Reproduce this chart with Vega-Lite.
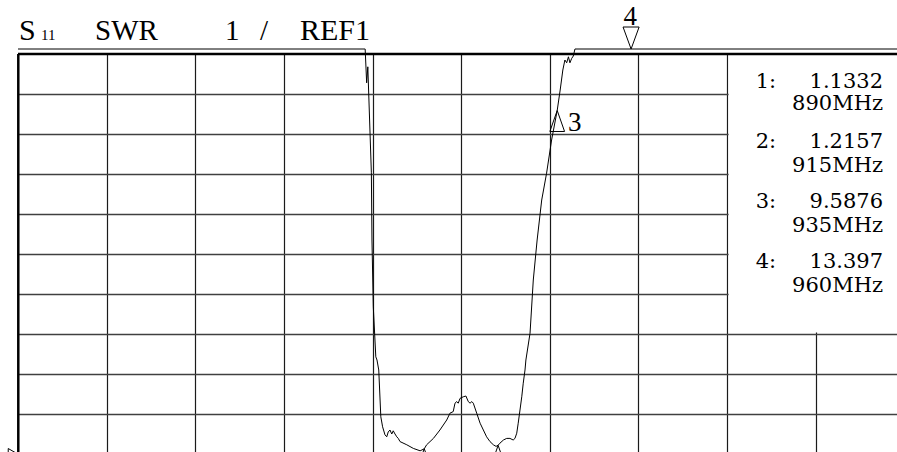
{
  "$schema": "https://vega.github.io/schema/vega-lite/v6.json",
  "width": 879,
  "height": 403,
  "autosize": {"type": "none"},
  "padding": {"left": 18, "top": 49, "right": 0, "bottom": 0},
  "background": "white",
  "config": {"view": {"stroke": null}},
  "data": {"values": [{}]},
  "datasets": {
    "trace": [
      {"f": 752.5, "swr": 11.125}, {"f": 870.0, "swr": 11.125}, {"f": 870.5, "swr": 10.28}, {"f": 870.9, "swr": 10.68},
      {"f": 872.1, "swr": 8.03}, {"f": 872.3, "swr": 6.35}, {"f": 872.75, "swr": 4.68}, {"f": 873.6, "swr": 3.43},
      {"f": 874.0, "swr": 3.35}, {"f": 874.6, "swr": 3.1}, {"f": 875.3, "swr": 1.93}, {"f": 875.9, "swr": 1.68},
      {"f": 876.7, "swr": 1.48}, {"f": 877.3, "swr": 1.43}, {"f": 877.8, "swr": 1.55}, {"f": 878.4, "swr": 1.6},
      {"f": 879.0, "swr": 1.5}, {"f": 879.5, "swr": 1.58}, {"f": 880.1, "swr": 1.5}, {"f": 880.7, "swr": 1.43},
      {"f": 881.2, "swr": 1.39}, {"f": 881.8, "swr": 1.31}, {"f": 884.1, "swr": 1.23}, {"f": 886.3, "swr": 1.14},
      {"f": 888.6, "swr": 1.08}, {"f": 890.0, "swr": 1.13}, {"f": 890.8, "swr": 1.23}, {"f": 893.1, "swr": 1.39},
      {"f": 895.3, "swr": 1.6}, {"f": 897.6, "swr": 1.85}, {"f": 898.7, "swr": 2.02}, {"f": 899.8, "swr": 2.06},
      {"f": 900.4, "swr": 2.27}, {"f": 901.0, "swr": 2.31}, {"f": 901.5, "swr": 2.27}, {"f": 902.1, "swr": 2.39},
      {"f": 903.2, "swr": 2.43}, {"f": 904.1, "swr": 2.45}, {"f": 904.9, "swr": 2.31}, {"f": 905.5, "swr": 2.27},
      {"f": 906.1, "swr": 2.31}, {"f": 906.6, "swr": 2.27}, {"f": 907.75, "swr": 2.02}, {"f": 908.9, "swr": 1.77},
      {"f": 910.0, "swr": 1.6}, {"f": 911.1, "swr": 1.43}, {"f": 912.25, "swr": 1.31}, {"f": 913.4, "swr": 1.23},
      {"f": 914.3, "swr": 1.19}, {"f": 915.0, "swr": 1.22}, {"f": 915.6, "swr": 1.27}, {"f": 916.8, "swr": 1.35},
      {"f": 917.9, "swr": 1.39}, {"f": 919.0, "swr": 1.39}, {"f": 920.1, "swr": 1.35}, {"f": 920.7, "swr": 1.39},
      {"f": 921.3, "swr": 1.52}, {"f": 921.8, "swr": 1.77}, {"f": 922.4, "swr": 2.1}, {"f": 923.0, "swr": 2.43},
      {"f": 923.5, "swr": 2.77}, {"f": 924.1, "swr": 3.1}, {"f": 924.4, "swr": 3.35}, {"f": 925.8, "swr": 4.02},
      {"f": 926.9, "swr": 5.35}, {"f": 928.2, "swr": 6.35}, {"f": 929.75, "swr": 7.35}, {"f": 931.4, "swr": 8.02},
      {"f": 933.1, "swr": 8.85}, {"f": 935.0, "swr": 9.59}, {"f": 936.0, "swr": 10.1}, {"f": 936.9, "swr": 10.6},
      {"f": 937.6, "swr": 10.85}, {"f": 938.2, "swr": 10.78}, {"f": 938.8, "swr": 10.93}, {"f": 939.3, "swr": 10.78},
      {"f": 939.9, "swr": 10.89}, {"f": 940.45, "swr": 10.95}, {"f": 941.0, "swr": 11.125}, {"f": 1050.0, "swr": 11.125}
    ],
    "markers": [
      {"m": "1", "f": 890, "swr": 1.1332},
      {"m": "2", "f": 915, "swr": 1.2157},
      {"m": "3", "f": 935, "swr": 9.5876}
    ]
  },
  "layer": [
    {
      "mark": {"type": "rect", "fill": "white"},
      "encoding": {
        "x": {"datum": 993, "type": "quantitative",
          "scale": {"domain": [752.5, 1050], "nice": false, "zero": false},
          "axis": {"title": null, "labels": false, "ticks": false, "domain": false, "grid": true,
            "values": [782.5, 812.5, 842.5, 872.5, 902.5, 932.5, 962.5, 992.5, 1022.5],
            "gridColor": "#1a1a1a", "gridWidth": 1.2, "gridOpacity": 1}},
        "x2": {"datum": 1050},
        "y": {"datum": 4.04, "type": "quantitative",
          "scale": {"domain": [1.05, 11.125], "nice": false, "zero": false},
          "axis": {"title": null, "labels": false, "ticks": false, "domain": false, "grid": true,
            "values": [2, 3, 4, 5, 6, 7, 8, 9, 10],
            "gridColor": "#404040", "gridWidth": 1.6, "gridOpacity": 1}},
        "y2": {"datum": 11}
      }
    },
    {
      "mark": {"type": "rect", "fill": "white"},
      "encoding": {
        "x": {"datum": 752.5, "type": "quantitative"},
        "x2": {"datum": 1050},
        "y": {"datum": 11, "type": "quantitative"},
        "y2": {"datum": 11.125}
      }
    },
    {
      "mark": {"type": "rule", "color": "black", "strokeWidth": 2.5},
      "encoding": {
        "x": {"datum": 752.6, "type": "quantitative"},
        "y": {"datum": 1.05, "type": "quantitative"},
        "y2": {"datum": 11}
      }
    },
    {
      "mark": {"type": "rule", "color": "black", "strokeWidth": 2.5},
      "encoding": {
        "x": {"datum": 752.5, "type": "quantitative"},
        "x2": {"datum": 1050},
        "y": {"datum": 11, "type": "quantitative"}
      }
    },
    {
      "data": {"name": "trace"},
      "mark": {"type": "line", "color": "black", "strokeWidth": 1},
      "encoding": {
        "x": {"field": "f", "type": "quantitative"},
        "y": {"field": "swr", "type": "quantitative"}
      }
    },
    {
      "data": {"name": "markers"},
      "mark": {"type": "point", "shape": "M0,0L-0.7,2L0.7,2Z", "size": 441, "filled": false, "stroke": "black", "strokeWidth": 1, "opacity": 1},
      "encoding": {
        "x": {"field": "f", "type": "quantitative"},
        "y": {"field": "swr", "type": "quantitative"}
      }
    },
    {
      "mark": {"type": "point", "shape": "M0,0L-0.73,-2L0.73,-2Z", "size": 484, "filled": false, "stroke": "black", "strokeWidth": 1, "opacity": 1},
      "encoding": {
        "x": {"datum": 960, "type": "quantitative"},
        "y": {"datum": 11.125, "type": "quantitative"}
      }
    },
    {
      "mark": {"type": "point", "shape": "triangle-right", "size": 120, "filled": false, "stroke": "black", "strokeWidth": 1, "opacity": 1},
      "encoding": {
        "x": {"datum": 750.8, "type": "quantitative"},
        "y": {"datum": 1.0, "type": "quantitative"}
      }
    },
    {
      "mark": {"type": "text", "text": "S", "font": "Liberation Serif", "fontSize": 30, "align": "left", "baseline": "alphabetic", "color": "black"},
      "encoding": {"x": {"datum": 752.84, "type": "quantitative"}, "y": {"datum": 11.35, "type": "quantitative"}}
    },
    {
      "mark": {"type": "text", "text": "11", "font": "Liberation Serif", "fontSize": 15, "align": "left", "baseline": "alphabetic", "color": "black"},
      "encoding": {"x": {"datum": 760.3, "type": "quantitative"}, "y": {"datum": 11.35, "type": "quantitative"}}
    },
    {
      "mark": {"type": "text", "text": "SWR", "font": "Liberation Serif", "fontSize": 29, "align": "left", "baseline": "alphabetic", "color": "black"},
      "encoding": {"x": {"datum": 778.56, "type": "quantitative"}, "y": {"datum": 11.35, "type": "quantitative"}}
    },
    {
      "mark": {"type": "text", "text": "1", "font": "Liberation Serif", "fontSize": 29, "align": "left", "baseline": "alphabetic", "color": "black"},
      "encoding": {"x": {"datum": 822.56, "type": "quantitative"}, "y": {"datum": 11.35, "type": "quantitative"}}
    },
    {
      "mark": {"type": "text", "text": "/", "font": "Liberation Serif", "fontSize": 29, "align": "left", "baseline": "alphabetic", "color": "black"},
      "encoding": {"x": {"datum": 834.4, "type": "quantitative"}, "y": {"datum": 11.35, "type": "quantitative"}}
    },
    {
      "mark": {"type": "text", "text": "REF1", "font": "Liberation Serif", "fontSize": 30, "align": "left", "baseline": "alphabetic", "color": "black"},
      "encoding": {"x": {"datum": 847.95, "type": "quantitative"}, "y": {"datum": 11.35, "type": "quantitative"}}
    },
    {
      "mark": {"type": "text", "text": "3", "font": "Liberation Serif", "fontSize": 27, "align": "left", "baseline": "alphabetic", "color": "black"},
      "encoding": {"x": {"datum": 938.65, "type": "quantitative"}, "y": {"datum": 9.075, "type": "quantitative"}}
    },
    {
      "mark": {"type": "text", "text": "4", "font": "Liberation Serif", "fontSize": 27, "align": "center", "baseline": "alphabetic", "color": "black"},
      "encoding": {"x": {"datum": 959.7, "type": "quantitative"}, "y": {"datum": 11.725, "type": "quantitative"}}
    },
    {
      "mark": {"type": "text", "text": "1:\u00a0\u00a0\u00a0\u00a0\u00a01.1332", "font": "DejaVu Serif", "fontSize": 21, "align": "right", "baseline": "alphabetic", "color": "black"},
      "encoding": {"x": {"datum": 1045.27, "type": "quantitative"}, "y": {"datum": 10.15, "type": "quantitative"}}
    },
    {
      "mark": {"type": "text", "text": "890MHz", "font": "DejaVu Serif", "fontSize": 21, "align": "right", "baseline": "alphabetic", "color": "black"},
      "encoding": {"x": {"datum": 1045.27, "type": "quantitative"}, "y": {"datum": 9.6, "type": "quantitative"}}
    },
    {
      "mark": {"type": "text", "text": "2:\u00a0\u00a0\u00a0\u00a0\u00a01.2157", "font": "DejaVu Serif", "fontSize": 21, "align": "right", "baseline": "alphabetic", "color": "black"},
      "encoding": {"x": {"datum": 1045.27, "type": "quantitative"}, "y": {"datum": 8.65, "type": "quantitative"}}
    },
    {
      "mark": {"type": "text", "text": "915MHz", "font": "DejaVu Serif", "fontSize": 21, "align": "right", "baseline": "alphabetic", "color": "black"},
      "encoding": {"x": {"datum": 1045.27, "type": "quantitative"}, "y": {"datum": 8.05, "type": "quantitative"}}
    },
    {
      "mark": {"type": "text", "text": "3:\u00a0\u00a0\u00a0\u00a0\u00a09.5876", "font": "DejaVu Serif", "fontSize": 21, "align": "right", "baseline": "alphabetic", "color": "black"},
      "encoding": {"x": {"datum": 1045.27, "type": "quantitative"}, "y": {"datum": 7.15, "type": "quantitative"}}
    },
    {
      "mark": {"type": "text", "text": "935MHz", "font": "DejaVu Serif", "fontSize": 21, "align": "right", "baseline": "alphabetic", "color": "black"},
      "encoding": {"x": {"datum": 1045.27, "type": "quantitative"}, "y": {"datum": 6.55, "type": "quantitative"}}
    },
    {
      "mark": {"type": "text", "text": "4:\u00a0\u00a0\u00a0\u00a0\u00a013.397", "font": "DejaVu Serif", "fontSize": 21, "align": "right", "baseline": "alphabetic", "color": "black"},
      "encoding": {"x": {"datum": 1045.27, "type": "quantitative"}, "y": {"datum": 5.65, "type": "quantitative"}}
    },
    {
      "mark": {"type": "text", "text": "960MHz", "font": "DejaVu Serif", "fontSize": 21, "align": "right", "baseline": "alphabetic", "color": "black"},
      "encoding": {"x": {"datum": 1045.27, "type": "quantitative"}, "y": {"datum": 5.05, "type": "quantitative"}}
    }
  ]
}
